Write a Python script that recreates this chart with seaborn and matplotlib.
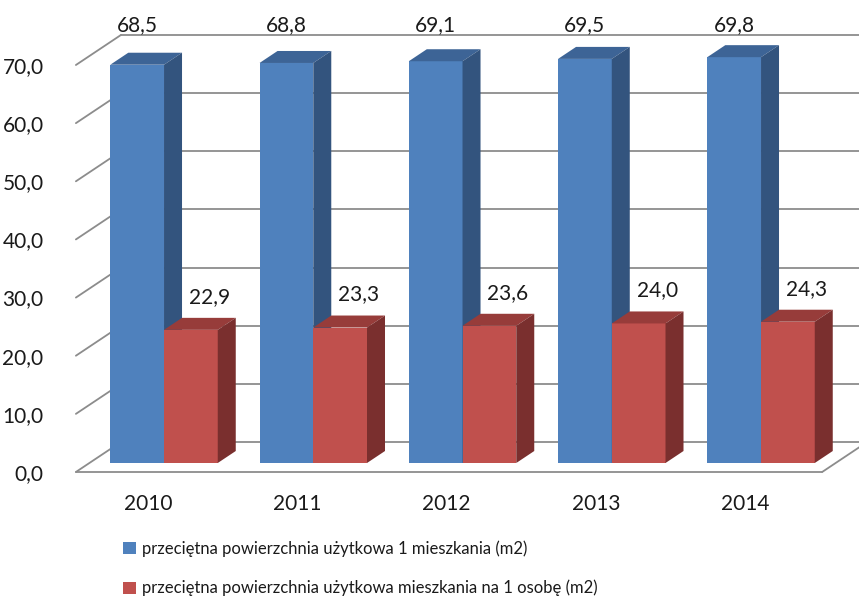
"""
Przeciętna powierzchnia użytkowa mieszkań 2010-2014 (wykres słupkowy 3D w stylu Excela)
"""

import matplotlib
matplotlib.use("Agg")
import matplotlib.pyplot as plt
import seaborn as sns
import pandas as pd
from matplotlib.patches import Polygon, Patch
from matplotlib.transforms import ScaledTranslation

# Data
years = ["2010", "2011", "2012", "2013", "2014"]
per_dwelling = [68.5, 68.8, 69.1, 69.5, 69.8]
per_person = [22.9, 23.3, 23.6, 24.0, 24.3]
series_names = [
    "przeciętna powierzchnia użytkowa 1 mieszkania (m2)",
    "przeciętna powierzchnia użytkowa mieszkania na 1 osobę (m2)",
]
y_ticks = [0, 10, 20, 30, 40, 50, 60, 70]

# Colours (front / top / side of the 3D boxes)
front_colors = ["#4F81BD", "#C0504D"]
top_colors = ["#3D6496", "#973C3A"]
side_colors = ["#33547E", "#7A2F2E"]
grid_color = "#8C8C8C"
text_color = "#1a1a1a"
num_size = 15

df = pd.DataFrame({
    "Rok": years * 2,
    "Wartosc": per_dwelling + per_person,
    "Seria": [series_names[0]] * len(years) + [series_names[1]] * len(years),
})

sns.set_theme(style="white")
plt.rcParams["font.family"] = ["Lato", "DejaVu Sans"]

W, H = 859, 597
fig = plt.figure(figsize=(W / 100, H / 100), dpi=100)
ax = fig.add_axes([89.4 / W, 134 / H, 746.25 / W, 407 / H])

sns.barplot(data=df, x="Rok", y="Wartosc", hue="Seria", palette=front_colors,
            width=0.72, saturation=1, linewidth=0, legend=False, ax=ax)

ax.set_xlim(-0.5, 4.5)
ax.set_ylim(0, 70)
ax.set_facecolor("none")
for s in ax.spines.values():
    s.set_visible(False)
ax.set_xlabel("")
ax.set_ylabel("")

# data units per pixel
xpp = 5 / 746.25
ypp = 70 / 407
# perspective offsets (pixels): front plane, back wall, bar depth
fx, fy = -13.5 * xpp, -9 * ypp
bx, by = 31.5 * xpp, 21 * ypp
dx, dy = 18 * xpp, 12 * ypp
x_left, x_right = ax.get_xlim()

# back wall grid + left side wall
for t in y_ticks:
    ax.plot([x_left + fx, x_left + bx], [t + fy, t + by], color=grid_color,
            lw=1.3, clip_on=False, zorder=0)
    ax.plot([x_left + bx, x_right + bx], [t + by, t + by], color=grid_color,
            lw=1.3, clip_on=False, zorder=0)
# floor front edge and right edge
ax.plot([x_left + fx, x_right + fx], [fy, fy], color=grid_color, lw=1.3,
        clip_on=False, zorder=0)
ax.plot([x_right + fx, x_right + bx], [fy, by], color=grid_color, lw=1.3,
        clip_on=False, zorder=0)

# 3D faces for the bars
for i, cont in enumerate(ax.containers):
    for rect in cont:
        rect.set_zorder(2 + i)
        x0, w, h = rect.get_x(), rect.get_width(), rect.get_height()
        top = [(x0, h), (x0 + w, h), (x0 + w + dx, h + dy), (x0 + dx, h + dy)]
        side = [(x0 + w, 0), (x0 + w, h), (x0 + w + dx, h + dy), (x0 + w + dx, dy)]
        ax.add_patch(Polygon(top, closed=True, facecolor=top_colors[i],
                             edgecolor="none", zorder=2 + i, clip_on=False))
        ax.add_patch(Polygon(side, closed=True, facecolor=side_colors[i],
                             edgecolor="none", zorder=2 + i, clip_on=False))

        label = f"{h:.1f}".replace(".", ",")
        cx = x0 + w / 2
        if i == 0:
            # Excel keeps these inside the plot area, at the top
            ax.annotate(label, xy=(cx, ax.get_ylim()[1]), xytext=(0, 31 * 0.72),
                        textcoords="offset points", ha="center", va="center",
                        fontsize=num_size, color=text_color, annotation_clip=False)
        else:
            ax.annotate(label, xy=(cx, h), xytext=(18.5 * 0.72, 33 * 0.72),
                        textcoords="offset points", ha="center", va="center",
                        fontsize=num_size, color=text_color, annotation_clip=False)

# tick labels on the front plane
ax.set_yticks(y_ticks)
ax.set_yticklabels([f"{t:.1f}".replace(".", ",") for t in y_ticks])
ax.tick_params(axis="y", left=False, pad=27, labelsize=num_size, labelcolor=text_color)
ax.tick_params(axis="x", bottom=False, pad=0, labelsize=num_size, labelcolor=text_color)
for lab in ax.get_yticklabels():
    lab.set_transform(lab.get_transform() + ScaledTranslation(0, -9 / 100, fig.dpi_scale_trans))
for lab in ax.get_xticklabels():
    lab.set_verticalalignment("center")
    lab.set_transform(lab.get_transform() + ScaledTranslation(-16 / 100, -33 / 100, fig.dpi_scale_trans))

# legend
handles = [Patch(facecolor=c, edgecolor="none") for c in front_colors]
fig.legend(handles, series_names, loc="upper left", bbox_to_anchor=(123 / W, 1 - 540 / H),
           frameon=False, fontsize=12, handlelength=0.75, handleheight=0.75,
           handletextpad=0.4, labelspacing=1.4, borderaxespad=0, borderpad=0,
           labelcolor=text_color)

fig.savefig("out.png", dpi=100)
